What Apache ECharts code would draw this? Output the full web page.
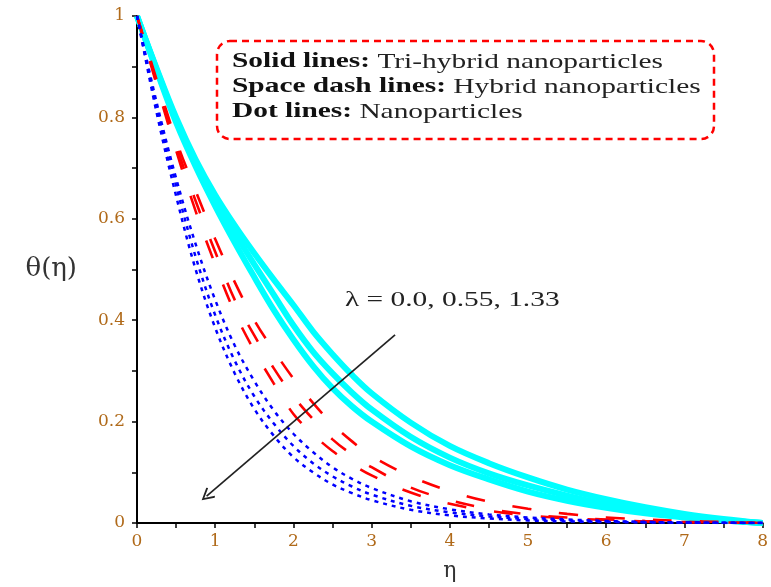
<!DOCTYPE html>
<html>
<head>
<meta charset="utf-8">
<script src="https://cdn.jsdelivr.net/npm/echarts@6/dist/echarts.min.js"></script>
<style>
html,body{margin:0;padding:0;background:#fff;}
#chart{width:771px;height:587px;}
</style>
</head>
<body>
<div id="chart"></div>
<script>
const etaValues = [0, 0.25, 0.5, 0.75, 1, 1.25, 1.5, 1.75, 2, 2.25, 2.5, 2.75, 3, 3.5, 4, 4.5, 5, 5.5, 6, 6.5, 7, 7.5, 8];

// Solid lines: tri-hybrid nanoparticles (lambda = 0.0, 0.55, 1.33)
const triHybrid_l000 = [1, 0.897, 0.80, 0.717, 0.647, 0.587, 0.532, 0.48, 0.43, 0.378, 0.333, 0.292, 0.256, 0.198, 0.152, 0.118, 0.09, 0.066, 0.047, 0.031, 0.018, 0.008, 0];
const triHybrid_l055 = [1, 0.895, 0.796, 0.712, 0.637, 0.572, 0.51, 0.45, 0.39, 0.338, 0.295, 0.257, 0.224, 0.17, 0.129, 0.098, 0.074, 0.054, 0.037, 0.024, 0.014, 0.006, 0];
const triHybrid_l133 = [1, 0.893, 0.79, 0.703, 0.625, 0.553, 0.485, 0.42, 0.362, 0.31, 0.266, 0.23, 0.20, 0.151, 0.114, 0.086, 0.062, 0.044, 0.03, 0.019, 0.011, 0.005, 0];

// Space dash lines: hybrid nanoparticles
const hybrid_l000 = [1, 0.875, 0.755, 0.655, 0.56, 0.475, 0.40, 0.34, 0.285, 0.237, 0.195, 0.161, 0.132, 0.092, 0.063, 0.042, 0.028, 0.018, 0.011, 0.007, 0.004, 0.002, 0];
const hybrid_l055 = [1, 0.87, 0.745, 0.635, 0.535, 0.44, 0.37, 0.305, 0.25, 0.205, 0.165, 0.135, 0.11, 0.07, 0.045, 0.028, 0.017, 0.011, 0.007, 0.004, 0.002, 0.001, 0];
const hybrid_l133 = [1, 0.865, 0.735, 0.615, 0.51, 0.415, 0.34, 0.275, 0.215, 0.175, 0.142, 0.116, 0.094, 0.06, 0.038, 0.024, 0.015, 0.009, 0.006, 0.003, 0.002, 0.001, 0];

// Dot lines: nanoparticles
const nano_l000 = [1, 0.83, 0.68, 0.55, 0.44, 0.35, 0.28, 0.222, 0.176, 0.14, 0.11, 0.087, 0.069, 0.043, 0.027, 0.017, 0.011, 0.007, 0.004, 0.002, 0.001, 0.0005, 0];
const nano_l055 = [1, 0.82, 0.665, 0.525, 0.41, 0.32, 0.25, 0.196, 0.152, 0.118, 0.092, 0.072, 0.056, 0.034, 0.021, 0.013, 0.008, 0.005, 0.003, 0.002, 0.001, 0.0005, 0];
const nano_l133 = [1, 0.81, 0.645, 0.50, 0.385, 0.295, 0.225, 0.172, 0.13, 0.10, 0.076, 0.059, 0.045, 0.026, 0.015, 0.009, 0.005, 0.003, 0.002, 0.001, 0.0005, 0.0002, 0];

// arrow annotation (data coordinates: start, tip)
const arrowStart = [3.30, 0.371];
const arrowTip = [0.89, 0.053];

const legendLines = [
  ['Solid lines:', ' Tri-hybrid nanoparticles'],
  ['Space dash lines:', ' Hybrid nanoparticles'],
  ['Dot lines:', ' Nanoparticles']
];
const lambdaLabel = 'λ = 0.0, 0.55, 1.33';

const pair = arr => etaValues.map((x, i) => [x, arr[i]]);

const tickColor = '#b06a1a';
const serif = 'Liberation Serif, Times New Roman, serif';
const labelFont = 'DejaVu Serif, serif';

function lineSeries(name, arr, style) {
  return {
    name: name, type: 'line', data: pair(arr), smooth: 0.35,
    symbol: 'none', showSymbol: false, silent: true,
    lineStyle: style
  };
}

const cyan = {color: '#00ffff', width: 6, type: 'solid'};
const red = {color: '#ff0000', width: 2.6, type: [19, 28]};
const blue = {color: '#0000ff', width: 2.5, type: [4, 5]};

const chart = echarts.init(document.getElementById('chart'), null, {renderer: 'canvas'});

const graphics = [{
  type: 'rect',
  shape: {x: 217, y: 41, width: 497, height: 98, r: 13},
  style: {fill: 'rgba(0,0,0,0)', stroke: '#ff0000', lineWidth: 2.5, lineDash: [7, 5]}
}];
legendLines.forEach((ln, i) => {
  graphics.push({
    type: 'text',
    x: 232, y: 62 + i * 25,
    scaleX: 1.40,
    style: {
      text: '{b|' + ln[0] + '}{r|' + ln[1] + '}',
      verticalAlign: 'middle',
      rich: {
        b: {fontFamily: serif, fontWeight: 'bold', fontSize: 21, fill: '#111'},
        r: {fontFamily: serif, fontSize: 21, fill: '#222'}
      }
    }
  });
});
graphics.push({
  type: 'text', x: 345, y: 300, scaleX: 1.40,
  style: {text: lambdaLabel, fontFamily: serif, fontSize: 21, fill: '#222', verticalAlign: 'middle'}
});

chart.setOption({
  animation: false,
  backgroundColor: '#fff',
  grid: {left: 137, right: 4, top: 16, bottom: 63, containLabel: false},
  xAxis: {
    type: 'value', min: 0, max: 8, interval: 1,
    name: 'η', nameLocation: 'middle', nameGap: 37,
    nameTextStyle: {fontFamily: labelFont, fontSize: 22, color: '#333'},
    axisLine: {show: true, onZero: false, lineStyle: {color: '#000', width: 2}},
    axisTick: {show: true, length: 5, lineStyle: {color: '#000', width: 1.5}},
    minorTick: {show: true, splitNumber: 2, length: 5, lineStyle: {color: '#000', width: 1.5}},
    splitLine: {show: false},
    axisLabel: {color: tickColor, fontFamily: labelFont, fontSize: 17, margin: 10}
  },
  yAxis: {
    type: 'value', min: 0, max: 1, interval: 0.2,
    name: 'θ(η)', nameLocation: 'middle', nameRotate: 0, nameGap: 60,
    nameTextStyle: {fontFamily: labelFont, fontSize: 26, color: '#333'},
    axisLine: {show: true, onZero: false, lineStyle: {color: '#000', width: 2}},
    axisTick: {show: true, length: 5, lineStyle: {color: '#000', width: 1.5}},
    minorTick: {show: true, splitNumber: 2, length: 5, lineStyle: {color: '#000', width: 1.5}},
    splitLine: {show: false},
    axisLabel: {color: tickColor, fontFamily: labelFont, fontSize: 17, margin: 12}
  },
  series: [
    lineSeries('tri 0.0', triHybrid_l000, cyan),
    lineSeries('tri 0.55', triHybrid_l055, cyan),
    lineSeries('tri 1.33', triHybrid_l133, cyan),
    lineSeries('hyb 0.0', hybrid_l000, red),
    lineSeries('hyb 0.55', hybrid_l055, red),
    lineSeries('hyb 1.33', hybrid_l133, red),
    lineSeries('nano 0.0', nano_l000, blue),
    lineSeries('nano 0.55', nano_l055, blue),
    lineSeries('nano 1.33', nano_l133, blue),
    {
      type: 'lines', coordinateSystem: 'cartesian2d', silent: true, z: 5,
      symbol: ['none', 'path://M5,0 L10,8.5 L9,9.5 L5,2.6 L1,9.5 L0,8.5 Z'],
      symbolSize: [15, 13],
      lineStyle: {color: '#222', width: 1.7, opacity: 1},
      data: [{coords: [arrowStart, arrowTip]}]
    }
  ],
  graphic: graphics
});
</script>
</body>
</html>
